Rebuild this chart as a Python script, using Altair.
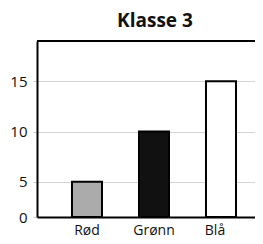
import altair as alt
import pandas as pd

categories = ["Rød", "Grønn", "Blå"]
values = [5, 10, 15]
fills = ["#ababab", "#111111", "#ffffff"]
y_ticks = [1.5, 5, 10, 15]
title_text = "Klasse 3"

df = pd.DataFrame({"kategori": categories, "antall": values, "farge": fills})

y_scale = alt.Scale(domain=[1.5, 19], clamp=True, nice=False, zero=False)

bars = alt.Chart(df).mark_bar(stroke="black", strokeWidth=2).encode(
    x=alt.X("kategori:N", sort=categories, title=None,
            scale=alt.Scale(paddingInner=0.552, paddingOuter=0.4029, align=0.648),
            axis=alt.Axis(labelAngle=0, ticks=False, domainColor="black", domainWidth=2,
                          labelFontSize=14, labelPadding=6, labelColor="#111",
                          labelOffset={"condition": {"test": "datum.value === 'Blå'", "value": -6}, "value": 0})),
    y=alt.Y("antall:Q", title=None, scale=y_scale,
            axis=alt.Axis(values=y_ticks, labelExpr="datum.value < 2 ? '0' : datum.label",
                          domainColor="black", domainWidth=2, tickColor="#cccccc", tickSize=4,
                          labelPadding=6, labelFontSize=15, labelColor="#111",
                          gridColor="#d4d4d4", gridWidth=1)),
    fill=alt.Fill("farge:N", scale=None),
)

top = alt.Chart(df).mark_rule(color="black", strokeWidth=2).encode(
    y=alt.datum(19, scale=y_scale)
)

chart = alt.layer(bars, top).properties(
    width=218, height=176,
    title=alt.TitleParams(title_text, fontSize=19, fontWeight="bold", offset=9, dx=9, color="#111"),
    padding={"left": 29, "top": 33, "right": 0, "bottom": 27},
    autosize="none",
).configure(font="Open Sans").configure_view(stroke=None)

chart.save("out.html", embed_options={"renderer": "svg", "actions": False})
